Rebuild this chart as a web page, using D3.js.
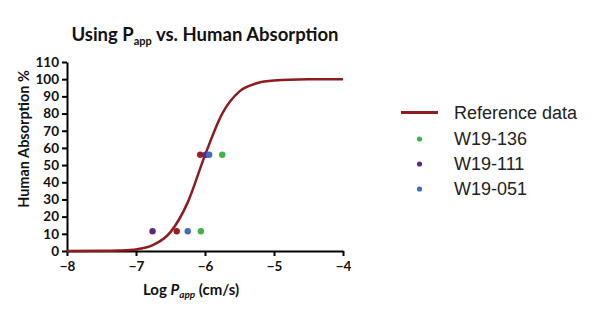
<!DOCTYPE html>
<html>
<head>
<meta charset="utf-8">
<script src="https://cdn.jsdelivr.net/npm/d3@7"></script>
<style>
  html, body { margin: 0; padding: 0; background: #fff; }
  svg { display: block; }
  .axis text { font-family: Lato, "Open Sans", sans-serif; font-weight: 700; font-size: 13.5px; fill: #111; }
  .axis path, .axis line { stroke: #000; stroke-width: 2px; }
</style>
</head>
<body>
<svg id="chart" width="600" height="323"></svg>
<script>
// Reference sigmoid (log Papp vs. % absorbed)
const refLogP = [-8, -7.5, -7.25, -7, -6.75, -6.5, -6.25, -6, -5.75, -5.5, -5.25, -5, -4.5, -4];
const refAbs  = [0, 0.1, 0.3, 0.9, 3.5, 11, 28.3, 55.8, 80, 92.9, 97.6, 99.2, 99.9, 100];

// Reference compounds shown as red points
const refPtsLogP = [-6.41, -6.07];
const refPtsAbs  = [11.5, 56];

// Test compounds
const seriesNames  = ["W19-136", "W19-111", "W19-051"];
const seriesColors = ["#3db54a", "#5a2a82", "#3f6bc1"];
const seriesLogP   = [[-6.06, -5.75], [-6.76, -5.99], [-6.25, -5.94]];
const seriesAbs    = [[11.5, 56], [11.5, 56], [11.5, 56]];

const xTicks = [-8, -7, -6, -5, -4];
const yTicks = [0, 10, 20, 30, 40, 50, 60, 70, 80, 90, 100, 110];

const svg = d3.select("#chart");
const x = d3.scaleLinear().domain([-8, -4]).range([67, 343]);
const y = d3.scaleLinear().domain([0, 110]).range([251, 62]);

// Title
const title = svg.append("text")
  .attr("x", 205).attr("y", 41)
  .attr("text-anchor", "middle")
  .style("font-family", "Lato, 'Open Sans', sans-serif")
  .style("font-weight", 700).style("font-size", "18.5px").style("fill", "#111");
title.append("tspan").text("Using P");
title.append("tspan").text("app").style("font-size", "11px").attr("dy", 4);
title.append("tspan").text(" vs. Human Absorption").attr("dy", -4);

// Axes
const fmt = d => d < 0 ? "\u2212" + Math.abs(d) : String(d);
svg.append("g").attr("class", "axis")
  .attr("transform", `translate(0,${y(0)})`)
  .call(d3.axisBottom(x).tickValues(xTicks).tickFormat(fmt).tickSize(5).tickPadding(5).tickSizeOuter(0));
svg.append("g").attr("class", "axis")
  .attr("transform", `translate(${x(-8)},0)`)
  .call(d3.axisLeft(y).tickValues(yTicks).tickFormat(fmt).tickSize(5).tickPadding(3).tickSizeOuter(0));

// Axis titles
svg.append("text")
  .attr("transform", `translate(28.5,139) rotate(-90)`)
  .attr("text-anchor", "middle")
  .style("font-family", "Lato, 'Open Sans', sans-serif")
  .style("font-weight", 700).style("font-size", "14.5px").style("fill", "#111")
  .text("Human Absorption %");

const xt = svg.append("text")
  .attr("x", 191).attr("y", 295)
  .attr("text-anchor", "middle")
  .style("font-family", "Lato, 'Open Sans', sans-serif")
  .style("font-weight", 700).style("font-size", "15px").style("fill", "#111");
xt.append("tspan").text("Log ");
xt.append("tspan").text("P").style("font-style", "italic");
xt.append("tspan").text("app").style("font-style", "italic").style("font-size", "10px").attr("dy", 3);
xt.append("tspan").text(" (cm/s)").attr("dy", -3);

// Reference curve
const line = d3.line().x(d => x(d[0])).y(d => y(d[1])).curve(d3.curveMonotoneX);
svg.append("path")
  .datum(d3.zip(refLogP, refAbs))
  .attr("d", line)
  .attr("fill", "none").attr("stroke", "#8e1b1e").attr("stroke-width", 2.5);

// Reference points
svg.append("g").selectAll("circle")
  .data(d3.zip(refPtsLogP, refPtsAbs)).join("circle")
  .attr("cx", d => x(d[0])).attr("cy", d => y(d[1])).attr("r", 3.2)
  .attr("fill", "#9a1f22");

// Test compound points
seriesNames.forEach((name, i) => {
  svg.append("g").selectAll("circle")
    .data(d3.zip(seriesLogP[i], seriesAbs[i])).join("circle")
    .attr("cx", d => x(d[0])).attr("cy", d => y(d[1])).attr("r", 3.2)
    .attr("fill", seriesColors[i]);
});

// Legend
const lg = svg.append("g").style("font-family", "'Liberation Sans', Arial, sans-serif").style("font-size", "18px");
lg.append("line").attr("x1", 401).attr("x2", 438).attr("y1", 112.5).attr("y2", 112.5)
  .attr("stroke", "#8e1b1e").attr("stroke-width", 3);
lg.append("text").attr("x", 454).attr("y", 119).attr("fill", "#222").text("Reference data");
seriesNames.forEach((name, i) => {
  const cy = 139 + i * 25;
  lg.append("circle").attr("cx", 419.5).attr("cy", cy).attr("r", 2.6).attr("fill", seriesColors[i]);
  lg.append("text").attr("x", 454).attr("y", cy + 6).attr("fill", "#222").text(name);
});
</script>
</body>
</html>
